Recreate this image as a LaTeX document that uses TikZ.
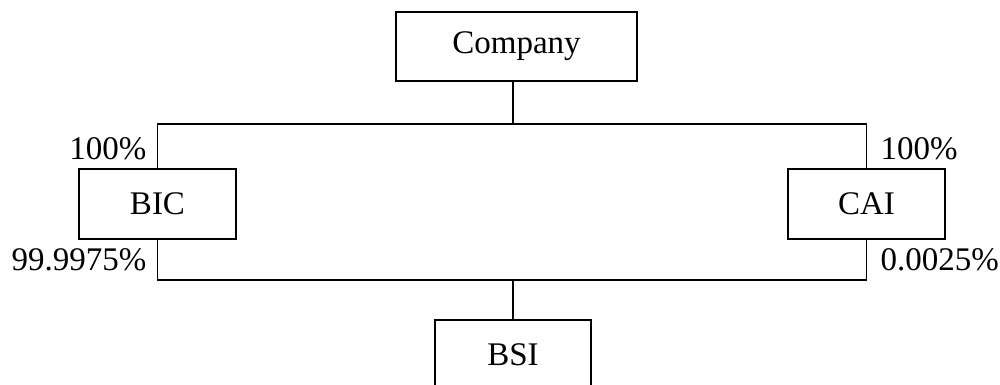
\documentclass[tikz,border=0pt]{standalone}
\usepackage{fontspec}
\setmainfont{Liberation Serif}
\begin{document}
\begin{tikzpicture}[x=1pt,y=-1pt,line width=1.2pt,
  box/.style={draw, inner sep=0pt, font=\fontsize{33}{40}\selectfont},
  pct/.style={inner sep=0pt, font=\fontsize{33}{40}\selectfont}]
\useasboundingbox (0,0) rectangle (1000,385);
\clip (0,0) rectangle (1000,385);
\node[box, minimum width=241pt, minimum height=69pt] (company) at (516.5,46.5) {Company};
\node[box, minimum width=157pt, minimum height=70pt] (bic) at (157.5,204) {BIC};
\node[box, minimum width=157pt, minimum height=70pt] (cai) at (866.5,204) {CAI};
\node[box, minimum width=156pt, minimum height=70pt] (bsi) at (513,355) {BSI};
\coordinate (jtop) at (513,124);
\coordinate (jbot) at (513,280);
\draw (jtop |- company.south) -- (jtop);
\draw (bic.north) -- (bic.north |- jtop) -- (cai.north |- jtop) -- (cai.north);
\draw (bic.south) -- (bic.south |- jbot) -- (cai.south |- jbot) -- (cai.south);
\draw (jbot) -- (bsi.north);
\node[pct, anchor=base east] (p1) at (147,159) {100\%};
\node[pct, anchor=base west] (p2) at (880,159) {100\%};
\node[pct, anchor=base east] (p3) at (147,270) {99.9975\%};
\node[pct, anchor=base west] (p4) at (880,270) {0.0025\%};
\end{tikzpicture}
\end{document}
